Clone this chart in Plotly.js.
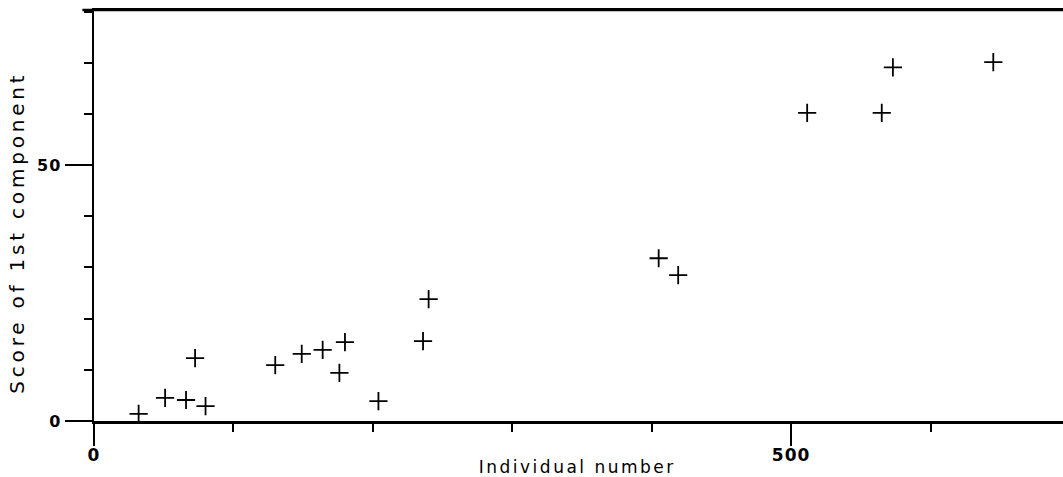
<!DOCTYPE html>
<html>
<head>
<meta charset="utf-8">
<script src="https://cdn.plot.ly/plotly-3.0.1.min.js"></script>
<style>
html,body{margin:0;padding:0;background:#fff;}
#chart{width:1063px;height:477px;}
.annotation[data-index="0"] .annotation-text{letter-spacing:2.5px;}
.annotation[data-index="1"] .annotation-text{letter-spacing:3.8px;}
.xtick text,.ytick text{letter-spacing:1px;}
</style>
</head>
<body>
<div id="chart"></div>
<script>
// Individual number (x) and score of 1st component (y)
const individualNumber = [32, 51, 66, 72.5, 80, 130, 149, 164, 176, 180, 204, 236, 240, 405, 419, 511.5, 565, 573, 645];
const score1st = [1.4, 4.5, 4.1, 12.3, 2.9, 10.9, 13.1, 13.9, 9.4, 15.4, 3.9, 15.6, 23.8, 31.8, 28.5, 60.2, 60.2, 69.1, 70.1];
const xTickVals = [0, 500];
const xTickText = ['0', '500'];
const yTickVals = [0, 50];
const yTickText = ['0', '50'];
const xTitle = 'Individual number';
const yTitle = 'Score of 1st component';

const trace = {
  x: individualNumber,
  y: score1st,
  mode: 'markers',
  type: 'scatter',
  marker: {symbol: 'cross-thin-open', size: 13, color: '#000', line: {color: '#000', width: 1.8}},
  hoverinfo: 'x+y'
};

const fontFam = '"DejaVu Sans", "Liberation Sans", Arial, sans-serif';
const layout = {
  width: 1063, height: 477,
  margin: {l: 94, r: 0, t: 10, b: 56, pad: 0},
  paper_bgcolor: '#fff', plot_bgcolor: '#fff',
  showlegend: false,
  xaxis: {
    range: [0, 695],
    showgrid: false, zeroline: false,
    showline: true, linecolor: '#000', linewidth: 2.5, mirror: true,
    tickmode: 'array', tickvals: xTickVals, ticktext: xTickText,
    ticks: 'outside', ticklen: 22, tickwidth: 2.5, tickcolor: '#000',
    ticklabelstandoff: -5,
    minor: {dtick: 100, tick0: 0, ticks: 'outside', ticklen: 8, tickwidth: 2, tickcolor: '#000', showgrid: false},
    tickfont: {family: fontFam, size: 17, color: '#000', weight: 'bold'}
  },
  yaxis: {
    range: [0, 80.3],
    showgrid: false, zeroline: false,
    showline: true, linecolor: '#000', linewidth: 2.5,
    tickmode: 'array', tickvals: yTickVals, ticktext: yTickText,
    ticks: 'outside', ticklen: 27, tickwidth: 2.5, tickcolor: '#000',
    minor: {dtick: 10, tick0: 0, ticks: 'outside', ticklen: 8, tickwidth: 2, tickcolor: '#000', showgrid: false},
    tickfont: {family: fontFam, size: 16, color: '#000', weight: 'bold'}
  },
  shapes: [
    {type: 'line', xref: 'paper', yref: 'paper', x0: -0.012, x1: 1, y0: 1, y1: 1, line: {color: '#000', width: 2.5}}
  ],
  annotations: [
    {text: xTitle, xref: 'paper', yref: 'paper', x: 0.4985, y: -0.112, xanchor: 'center', yanchor: 'middle', showarrow: false,
     font: {family: fontFam, size: 17, color: '#000'}},
    {text: yTitle, xref: 'paper', yref: 'paper', x: -0.0795, y: 0.46, xanchor: 'center', yanchor: 'middle', showarrow: false, textangle: -90,
     font: {family: fontFam, size: 20, color: '#000'}}
  ]
};

Plotly.newPlot('chart', [trace], layout, {displayModeBar: false, staticPlot: true});
</script>
</body>
</html>
